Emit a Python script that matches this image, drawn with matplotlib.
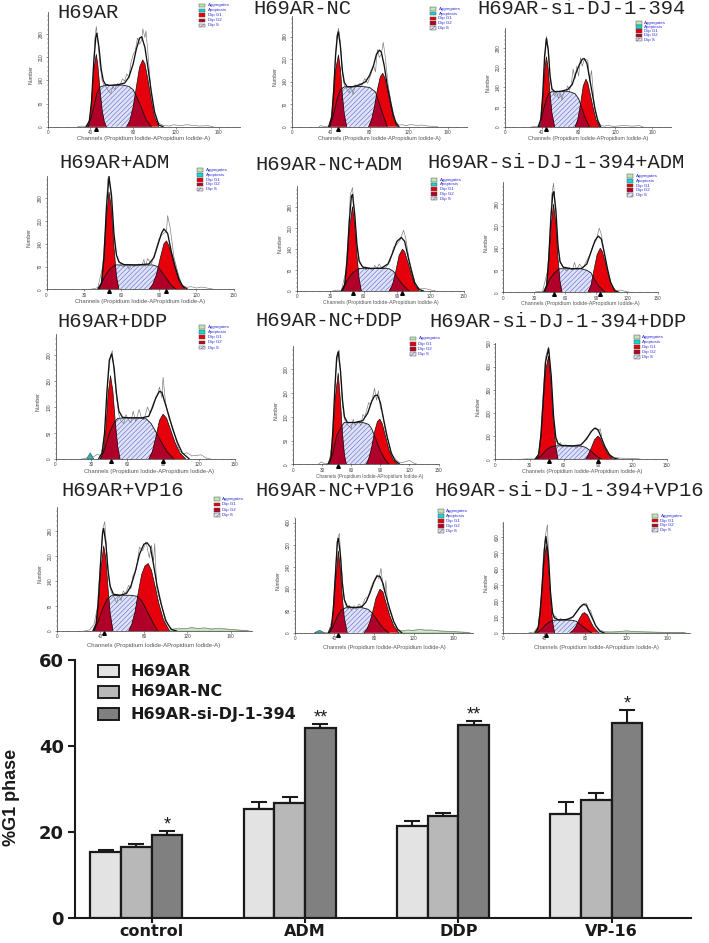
import matplotlib
matplotlib.use("Agg")
import matplotlib.pyplot as plt
from matplotlib.patches import Rectangle, Polygon

W, H = 709, 943
plt.rcParams['font.family'] = ['Liberation Sans', 'DejaVu Sans']
plt.rcParams['hatch.linewidth'] = 0.35
plt.rcParams['hatch.color'] = '#5b69d6'

# ---- bar chart values (%G1 phase)
groups = ['control', 'ADM', 'DDP', 'VP-16']
series_names = ['H69AR', 'H69AR-NC', 'H69AR-si-DJ-1-394']
h69ar = [15.4, 25.4, 21.5, 24.2]
h69ar_err = [0.4, 1.5, 1.1, 2.7]
h69ar_nc = [16.5, 26.8, 23.8, 27.4]
h69ar_nc_err = [0.7, 1.4, 0.7, 1.6]
h69ar_si = [19.3, 44.2, 44.8, 45.4]
h69ar_si_err = [1.0, 0.9, 0.9, 2.9]
stars = ['*', '**', '**', '*']

# ---- cell cycle histograms, (channel, number)
titles = ['H69AR', 'H69AR-NC', 'H69AR-si-DJ-1-394',
          'H69AR+ADM', 'H69AR-NC+ADM', 'H69AR-si-DJ-1-394+ADM',
          'H69AR+DDP', 'H69AR-NC+DDP', 'H69AR-si-DJ-1-394+DDP',
          'H69AR+VP16', 'H69AR-NC+VP16', 'H69AR-si-DJ-1-394+VP16']

p1_g1 = [(37,0),(39,15),(41,70),(43,170),(45.5,219),(47,185),(49,110),(51,50),(53,15),(55,0)]
p1_g2 = [(74,0),(77,20),(80,60),(83,120),(86,180),(89,202),(91,190),(94,140),(97,80),(100,30),(104,0)]
p1_s = [(38,0),(42,45),(46,100),(49,120),(53,125),(60,125),(70,126),(76,122),(80,112),(84,85),(88,55),(92,22),(97,0)]
p1_env = [(36,0),(39,18),(41,75),(43,190),(45,270),(46,283),(48,240),(50,175),(52,140),(54,128),(58,125),(66,127),(72,132),(76,150),(80,190),(83,235),(86,268),(88,272),(91,240),(94,175),(97,105),(100,45),(104,5),(108,0)]
p1_raw = [(28,0),(32,2),(35,1),(38,8),(40,35),(42,120),(44,262),(45.5,303),(47,260),(49,185),(51,138),(53,125),(55,118),(57,108),(59,100),(61,122),(63,112),(65,130),(68,128),(70,145),(72,138),(74,160),(76,150),(78,195),(80,218),(82,230),(84,268),(86,250),(88,262),(89,296),(91,270),(92,290),(94,215),(97,95),(100,40),(103,12),(108,4),(114,2),(118,6),(124,3),(130,6),(136,4),(142,2),(150,3),(155,0)]

p2_g1 = [(39,0),(41,30),(43,95),(45,175),(48,223),(50,180),(52,100),(54,40),(56.5,0)]
p2_g2 = [(79,0),(82,22),(85,62),(88,115),(91,155),(93.5,166),(96,150),(99,105),(102,60),(105,22),(108.5,0)]
p2_s = [(39,0),(43,40),(47,90),(50,115),(54,124),(62,124),(72,125),(80,122),(86,108),(90,72),(94,35),(98,0)]
p2_env = [(38,0),(41,28),(43,105),(45,220),(47,285),(48,295),(50,250),(52,175),(54,138),(57,124),(62,124),(70,130),(76,140),(80,160),(84,190),(87,225),(90,238),(92,232),(95,190),(98,130),(101,85),(104,40),(107,12),(110,0)]
p2_raw = [(28,0),(30,4),(33,0),(38,2),(41,35),(44,170),(46,275),(48,306),(50,262),(52,170),(54,130),(57,115),(59,105),(61,125),(63,100),(65,130),(68,128),(70,135),(72,128),(75,150),(78,135),(81,160),(84,190),(86,170),(88,240),(90,215),(92,225),(94,262),(96,220),(99,130),(102,75),(106,20),(110,5),(114,6),(118,3),(122,7),(128,4),(134,5),(140,2),(150,0)]

p3_g1 = [(37,0),(39,25),(41,100),(43,200),(45,248),(47,205),(49,115),(51,50),(54,0)]
p3_g2 = [(76,0),(79,25),(82,80),(85,145),(88,169),(90,155),(93,110),(96,65),(99,25),(103,0)]
p3_s = [(37,0),(41,50),(45,100),(48,120),(51,125),(60,125),(70,125),(76,118),(80,100),(84,62),(88,25),(92,0)]
p3_env = [(36,0),(39,28),(41,115),(43,250),(45,313),(47,270),(49,180),(51,135),(54,125),(60,126),(68,132),(73,150),(77,190),(81,222),(84,240),(86,242),(89,225),(92,170),(95,115),(98,60),(101,20),(104,0)]
p3_raw = [(28,0),(34,2),(38,6),(41,110),(43,240),(45,321),(47,280),(49,175),(51,130),(54,110),(56,125),(58,100),(60,120),(62,95),(64,130),(66,125),(68,145),(70,130),(72,150),(74,205),(76,170),(78,215),(80,180),(82,245),(84,215),(86,238),(88,240),(90,235),(92,160),(94,200),(97,75),(100,30),(104,5),(108,3),(112,6),(118,2),(124,4),(130,5),(138,3),(146,5),(150,0)]

p4_g1 = [(42,0),(44,20),(46,90),(48,220),(50,300),(52,250),(54,130),(56,40),(58,0)]
p4_g2 = [(82,0),(85,15),(88,45),(91,95),(94,140),(96,149),(98,135),(101,95),(104,50),(107,18),(111,0)]
p4_s = [(42,0),(46,35),(50,60),(55,75),(65,75),(75,75),(85,75),(89,70),(93,50),(97,28),(100,12),(104,0)]
p4_env = [(41,0),(44,20),(46,105),(48,255),(50,347),(52,290),(54,170),(56,105),(58,84),(62,76),(72,75),(82,78),(86,98),(89,135),(92,172),(94,186),(97,172),(100,115),(103,70),(106,32),(109,10),(113,0)]
p4_raw = [(35,0),(38,2),(41,5),(45,70),(47,180),(49,340),(50,349),(52,270),(54,160),(56,105),(58,88),(60,72),(62,68),(64,78),(66,62),(68,75),(70,70),(74,78),(76,72),(78,92),(79,70),(81,95),(84,78),(87,115),(90,155),(93,170),(96,178),(97,227),(99,190),(102,100),(105,55),(108,15),(112,6),(116,8),(120,4),(124,7),(130,3),(134,0)]

p5_g1 = [(41,0),(43,22),(45,90),(47,200),(50,280),(52,225),(54,120),(56,40),(58,0)]
p5_g2 = [(83,0),(86,20),(89,65),(92,118),(95,139),(97,130),(100,95),(103,55),(106,22),(110,0)]
p5_s = [(41,0),(45,35),(50,60),(56,75),(65,75),(75,75),(83,74),(87,65),(91,42),(95,22),(101,0)]
p5_env = [(40,0),(43,22),(45,100),(47,225),(49,315),(50,321),(52,255),(54,155),(56,100),(59,80),(66,75),(76,76),(82,90),(86,125),(90,165),(94,178),(97,165),(100,115),(103,68),(106,28),(110,5),(114,0)]
p5_raw = [(32,0),(36,3),(40,2),(44,65),(46,170),(48,320),(50,344),(52,250),(54,150),(56,95),(59,82),(62,70),(65,78),(68,68),(70,85),(72,75),(74,90),(76,78),(80,78),(84,100),(87,145),(90,155),(93,170),(96,202),(98,175),(101,105),(104,60),(107,18),(111,7),(115,8),(120,4),(125,0)]

p6_g1 = [(40,0),(42,22),(44,90),(46,200),(48.7,280),(51,220),(53,110),(55,35),(57,0)]
p6_g2 = [(82,0),(85,22),(88,72),(91,120),(94,140),(96,130),(99,95),(102,55),(105,22),(109,0)]
p6_s = [(40,0),(44,35),(49,60),(54,75),(65,75),(75,75),(81,70),(85,62),(89,38),(93,18),(99,0)]
p6_env = [(39,0),(42,22),(44,105),(46,230),(48,315),(49,320),(51,260),(53,150),(55,98),(58,80),(66,75),(76,76),(81,90),(85,128),(89,165),(92,179),(95,170),(98,125),(101,75),(104,32),(108,6),(112,0)]
p6_raw = [(30,0),(34,3),(38,2),(43,70),(45,170),(47,310),(48.7,347),(51,250),(53,150),(55,95),(58,82),(61,68),(64,78),(67,70),(69,95),(71,72),(74,90),(77,75),(80,95),(84,120),(87,150),(90,165),(93,204),(95,185),(98,125),(101,70),(105,20),(109,6),(114,7),(118,3),(123,0)]

p7_g1 = [(37.5,0),(40,15),(42,55),(44,125),(46,160),(48,130),(50,70),(52,25),(54,0)]
p7_g2 = [(78,0),(81,14),(84,42),(87,74),(90,86),(93,78),(96,58),(100,32),(104,12),(109,0)]
p7_s = [(37.5,0),(41,18),(45,50),(49,70),(52,78),(60,79),(70,79),(76,77),(80,68),(84,52),(88,35),(93,15),(99,0)]
p7_env = [(36,0),(39,12),(41,50),(43,130),(45,190),(47,202),(49,175),(51,125),(53,92),(56,80),(62,79),(72,79),(78,82),(81,98),(84,118),(87,130),(89,128),(92,105),(95,82),(98,58),(102,32),(106,12),(112,0)]
p7_raw = [(22,0),(26,2),(29,8),(31,3),(35,9),(38,6),(41,48),(44,155),(46,198),(47.5,208),(49,165),(51,118),(53,85),(55,72),(57,68),(59,85),(61,75),(63,70),(65,92),(67,72),(70,95),(72,78),(74,75),(77,100),(79,88),(82,108),(85,120),(87,138),(89,118),(90,157),(92,110),(95,78),(98,62),(101,35),(104,15),(107,10),(110,12),(114,6),(118,7),(122,8),(126,2),(130,0)]

p8_g1 = [(37,0),(39,12),(41,55),(43,130),(46.6,192),(49,130),(51,65),(53,20),(55,0)]
p8_g2 = [(75.5,0),(78,12),(81,35),(84,68),(87,90),(89.5,95),(92,85),(95,62),(99,30),(103,10),(108,0)]
p8_s = [(37,0),(41,22),(45,60),(50,80),(53,88),(62,88),(72,88),(78,84),(81,75),(85,55),(90,28),(95,10),(99,0)]
p8_env = [(36,0),(39,14),(41,68),(43,155),(45,225),(46.6,237),(49,195),(51,135),(53,100),(56,88),(64,88),(72,92),(77,108),(81,132),(84,144),(87,146),(90,130),(93,98),(97,58),(101,25),(105,8),(110,0)]
p8_raw = [(26,0),(29,5),(33,1),(37,2),(40,40),(42,110),(44,190),(46,235),(47.5,241),(49,190),(51,125),(53,95),(55,85),(58,80),(60,75),(62,95),(64,82),(66,90),(68,88),(70,82),(72,105),(74,100),(76,115),(78,130),(80,125),(82,140),(84,160),(86,135),(88,155),(90,118),(92,112),(95,72),(98,50),(102,20),(106,10),(110,3),(115,5),(120,8),(124,3),(128,0)]

p9_g1 = [(36,0),(38,20),(40,100),(42,240),(44,380),(46.7,446),(49,320),(51,160),(53,55),(55,0)]
p9_g2 = [(79,0),(81,15),(84,48),(87,85),(90,100),(92,90),(95,58),(98,28),(103,0)]
p9_s = [(36,0),(40,15),(45,42),(49,54),(53,58),(65,58),(75,57),(79,52),(83,38),(87,22),(90,10),(93,0)]
p9_env = [(35,0),(38,22),(40,105),(42,260),(44,420),(46.7,479),(49,360),(51,190),(53,95),(55,68),(58,60),(68,58),(75,62),(80,88),(84,120),(87,134),(90,128),(93,92),(96,55),(100,20),(104,5),(108,0)]
p9_raw = [(22,0),(28,2),(34,1),(38,18),(40,120),(42,290),(44,440),(46.7,486),(49,350),(51,180),(53,85),(55,60),(57,72),(59,52),(62,62),(65,55),(68,60),(71,48),(74,60),(77,72),(80,95),(83,110),(86,130),(88,138),(90,120),(92,132),(94,72),(97,45),(100,18),(104,8),(110,5),(116,3),(122,4),(128,0)]

p10_g1 = [(34,0),(36,18),(38,70),(40,160),(43,238),(45,205),(47,120),(49,50),(51.6,0)]
p10_g2 = [(66,0),(69,20),(72,55),(75,110),(78,158),(81,182),(84,189),(87,170),(90,130),(94,75),(98,32),(103.7,0)]
p10_s = [(34,0),(38,28),(42,62),(46,88),(50,99),(58,100),(68,100),(74,97),(78,85),(82,62),(86,38),(89,20),(93,0)]
p10_env = [(33,0),(36,20),(38,80),(40,185),(42,275),(43,287),(45,245),(47,170),(49,125),(52,103),(58,100),(64,105),(68,125),(72,165),(76,215),(80,243),(83,247),(86,235),(89,185),(92,130),(96,75),(100,30),(105,5),(110,0)]
p10_raw = [(25,0),(30,3),(34,18),(37,62),(40,190),(42,285),(44,306),(46,215),(48,140),(50,108),(52,98),(55,78),(57,102),(59,85),(61,112),(63,105),(66,128),(68,118),(70,155),(73,172),(76,235),(79,225),(82,250),(85,205),(87,240),(89,195),(90,245),(92,115),(95,85),(98,55),(102,18),(106,5),(112,8),(118,6),(124,10),(130,7),(136,9),(142,5),(150,8),(158,5),(166,3),(176,1)]
p10_agg = [(100,0),(112,5),(125,8),(140,7),(155,5),(170,2),(178,0)]

p11_g1 = [(35,0),(37,20),(39,80),(41,180),(44,297),(46,235),(48,130),(50,55),(53,0)]
p11_g2 = [(70,0),(73,14),(76,40),(79,80),(82,125),(86,158),(89,148),(92,110),(96,62),(100,25),(105,0)]
p11_s = [(35,0),(39,25),(43,60),(47,82),(51.6,91),(60,91),(68,91),(74,85),(78,72),(82,52),(86,32),(90,14),(95,0)]
p11_env = [(34,0),(37,22),(39,90),(41,210),(43,330),(44,343),(46,285),(48,180),(50,120),(53,95),(60,91),(68,95),(72,112),(76,145),(80,185),(83,206),(86,205),(89,180),(92,135),(96,85),(100,40),(104,12),(108,0)]
p11_raw = [(20,0),(25,8),(29,0),(34,2),(38,50),(41,220),(43,340),(45,361),(47,245),(49,150),(51,105),(53,88),(55,100),(57,82),(60,98),(62,85),(65,105),(68,95),(71,125),(74,130),(77,165),(80,190),(83,210),(85,195),(87,234),(89,170),(91,145),(92,190),(94,95),(97,70),(100,38),(104,12),(108,7),(114,10),(120,8),(126,12),(132,9),(138,10),(146,6),(155,5),(165,3),(176,1)]
p11_agg = [(102,0),(112,7),(125,11),(138,9),(150,6),(165,3),(178,0)]

p12_g1 = [(32,0),(34,30),(36,130),(38,300),(40,470),(42,545),(44,440),(46,230),(48,70),(50,0)]
p12_g2 = [(65,0),(68,15),(71,42),(74,85),(77,118),(79,126),(82,112),(85,72),(88,35),(93,0)]
p12_s = [(33,0),(37,18),(41,48),(45,68),(48.5,78),(58,80),(67,78),(71,72),(75,52),(79,32),(83,12),(86,0)]
p12_env = [(31,0),(34,32),(36,135),(38,310),(40,520),(41.5,604),(44,480),(46,255),(48,125),(50,92),(54,80),(62,82),(68,100),(72,135),(75,162),(78,178),(81,172),(84,130),(87,88),(90,45),(94,10),(98,0)]
p12_raw = [(25,0),(30,4),(34,40),(37,230),(39,470),(41,610),(43,677),(45,340),(47,160),(49,95),(51,105),(53,75),(56,90),(59,72),(62,88),(65,82),(68,100),(71,130),(74,155),(77,165),(79,184),(81,185),(83,150),(85,140),(87,100),(90,42),(94,18),(98,7),(105,4),(112,6),(120,12),(128,7),(136,5),(145,4),(160,2),(176,1)]
p12_agg = [(92,0),(105,5),(120,10),(135,6),(150,3),(165,1),(178,0)]

# cyan apoptosis bump, only two panels have one
p7_apo = [(26,0),(29,12),(32,0)]
p11_apo = [(20,0),(25,9),(30,0)]

all_g1 = [p1_g1, p2_g1, p3_g1, p4_g1, p5_g1, p6_g1, p7_g1, p8_g1, p9_g1, p10_g1, p11_g1, p12_g1]
all_g2 = [p1_g2, p2_g2, p3_g2, p4_g2, p5_g2, p6_g2, p7_g2, p8_g2, p9_g2, p10_g2, p11_g2, p12_g2]
all_s = [p1_s, p2_s, p3_s, p4_s, p5_s, p6_s, p7_s, p8_s, p9_s, p10_s, p11_s, p12_s]
all_env = [p1_env, p2_env, p3_env, p4_env, p5_env, p6_env, p7_env, p8_env, p9_env, p10_env, p11_env, p12_env]
all_raw = [p1_raw, p2_raw, p3_raw, p4_raw, p5_raw, p6_raw, p7_raw, p8_raw, p9_raw, p10_raw, p11_raw, p12_raw]
all_agg = [None]*9 + [p10_agg, p11_agg, p12_agg]
all_apo = [None]*6 + [p7_apo, None, None, None, p11_apo, None]

# peak markers under the axis
g1_marks = [45.5, 48, 45, 50, 50, 48.7, 46, 46.6, 46.7, 43, 44, 42]
g2_marks = [None, None, None, 96, 95, 94, 90, None, 90, None, None, None]

# ---- panel layout in picture pixels: left, right, baseline, top
boxes = [(47.7,240,126.7,12), (291.7,467,126.7,15.7), (505,670.7,127,28),
         (46.6,233.8,289.3,176), (297,463.5,291,186), (503.3,658,292.3,182.3),
         (55.6,234.7,459,334), (293,438.6,464.3,346), (495.3,666.5,459.3,343.3),
         (57,252.4,631,506.7), (294.8,473,632.7,517.7), (503.3,689.6,632.7,521.7)]
xmax = [180,180,180, 150,150,150, 150,150,150, 180,180,181.6]
ymax = [347,345,350, 349,349,350, 240,249,501, 348,418,696]
ysteps = [70,70,70, 70,70,70, 50,50,100, 70,80,100]
xsteps = [40,40,40, 30,30,30, 30,30,30, 40,40,40]
title_pos = [(57,12),(253,8),(477,8),(59,162),(255.6,164),(427,162.7),
             (57.5,321.7),(255,320),(429,321.7),(61,490.7),(255.6,490.7),(434.5,490)]
xlabel_pos = [(144,138.5),(379,138.5),(588,138.5),(140,301.5),(381,302.5),(580,303.5),
              (149,471),(369.8,476),(582,471),(154,646),(384,647.5),(596,647.5)]
xlabel_size = [4.3,4.0,3.9,4.2,3.7,3.8,4.2,3.4,3.9,4.3,4.0,4.1]
legend_pos = [(199,3.5,5),(430,7,4.8),(635.7,21,4.2),(197,168.3,4.8),(431,178,4.7),(627,174.3,4.7),
              (199,325,5.2),(410,336.7,5.2),(633.5,335,5),(213.6,497.3,5.3),(437.5,509.3,5),(652,514,4.8)]
legend_names = [['Aggregates','Apoptosis','Dip G1','Dip G2','Dip S']]*7 + \
    [['Aggregates','Dip G1','Dip G2','Dip S'], ['Aggregates','Apoptosis','Dip G1','Dip G2','Dip S'],
     ['Aggregates','Dip G1','Dip G2','Dip S'], ['Aggregates','Apoptosis','Dip G1','Dip G2','Dip S'],
     ['Aggregates','Dip G1','Dip G2','Dip S']]
legend_colors = {'Aggregates':'#bfe6b8', 'Apoptosis':'#12d6d6', 'Dip G1':'#e5000c', 'Dip G2':'#b80020', 'Dip S':'#dfe2f7'}

RED = '#e5000c'
DARK = '#b0002a'
BOLD = ['DejaVu Sans']

fig = plt.figure(figsize=(W/100, H/100), dpi=100, facecolor='white')


def axes_px(left, right, base, top):
    return fig.add_axes([left/W, 1-base/H, (right-left)/W, (base-top)/H])


for i in range(12):
    left, right, base, top = boxes[i]
    ax = axes_px(left, right, base, top)
    ax.patch.set_alpha(0)
    ax.set_xlim(0, xmax[i])
    ax.set_ylim(0, ymax[i])
    for side in ['top', 'right']:
        ax.spines[side].set_visible(False)
    for side in ['left', 'bottom']:
        ax.spines[side].set_linewidth(0.5)
        ax.spines[side].set_color('#333333')

    ax.set_xticks(range(0, int(xmax[i])+1, xsteps[i]))
    ax.set_xticks(range(0, int(xmax[i])+1, xsteps[i]//4), minor=True)
    ax.set_yticks(range(0, int(ymax[i]), ysteps[i]))
    ax.set_yticks(range(0, int(ymax[i]), ysteps[i]//5), minor=True)
    ax.tick_params(axis='both', which='major', length=1.6, width=0.4, labelsize=3.3,
                   pad=1.2, colors='#444444')
    ax.tick_params(axis='x', which='major', pad=0.8)
    ax.tick_params(axis='both', which='minor', length=0.9, width=0.3, colors='#444444')
    for lab in ax.get_yticklabels():
        lab.set_rotation(90)
        lab.set_va('center')

    # S phase underneath, hatched
    s_xy = all_s[i]
    ax.add_patch(Polygon(s_xy, closed=True, facecolor='#dfe2f7', edgecolor='#4a56c8',
                         hatch='///////', lw=0, zorder=2))

    for g_xy in [all_g1[i], all_g2[i]]:
        g = Polygon(g_xy, closed=True, facecolor=RED, edgecolor='none', zorder=3)
        ax.add_patch(g)
        # darker red where the peak sits on top of S phase
        over = Polygon(s_xy, closed=True, facecolor=DARK, edgecolor='none', zorder=4)
        ax.add_patch(over)
        over.set_clip_path(g)
        ax.plot(*zip(*g_xy), color='#111111', lw=0.5, zorder=5)

    ax.plot(*zip(*s_xy), color='#111111', lw=0.6, zorder=5)

    if all_agg[i] is not None:
        ax.fill(*zip(*all_agg[i]), facecolor='#cfeac6', edgecolor='#7fae78', lw=0.3, zorder=2)
    if all_apo[i] is not None:
        ax.fill(*zip(*all_apo[i]), facecolor='#12c8c8', edgecolor='#222222', lw=0.3, zorder=3)

    ax.plot(*zip(*all_raw[i]), color='#777777', lw=0.45, zorder=6)
    ax.plot(*zip(*all_env[i]), color='#111111', lw=0.95, zorder=7)
    ax.plot([0, xmax[i]], [0, 0], color='#555555', lw=0.7, zorder=7)

    marks = [m for m in [g1_marks[i], g2_marks[i]] if m is not None]
    ax.plot(marks, [-0.018*ymax[i]]*len(marks), linestyle='none', marker='^', ms=2.6,
            color='black', clip_on=False, zorder=8)

    # texts in picture pixels
    tx, ty = title_pos[i]
    fig.text(tx/W, 1-ty/H, titles[i], family=['Liberation Mono'], fontsize=14.8,
             color='#222222', ha='left', va='center')
    lx, ly = xlabel_pos[i]
    fig.text(lx/W, 1-ly/H, 'Channels (Propidium Iodide-APropidium Iodide-A)',
             fontsize=xlabel_size[i], color='#555555', ha='center', va='center')
    fig.text((left-17)/W, 1-(base+top+10)/2/H, 'Number', fontsize=3.8, rotation=90,
             color='#444444', ha='center', va='center')

    sx, sy, step = legend_pos[i]
    for j, name in enumerate(legend_names[i]):
        y = sy + j*step
        hatch = '//////' if name == 'Dip S' else None
        fig.add_artist(Rectangle((sx/W, 1-(y+3.6)/H), 6/W, 3.6/H, transform=fig.transFigure,
                                 facecolor=legend_colors[name], edgecolor='#555555', lw=0.35, hatch=hatch))
        fig.text((sx+8.5)/W, 1-(y+1.8)/H, name, fontsize=3.2, color='#2a2ad8', ha='left', va='center')

# ---- bar chart
ax = axes_px(75, 691, 918, 660)
ax.patch.set_alpha(0)
ax.set_xlim(-0.5, 3.517)
ax.set_ylim(0, 60)
bar_w = 0.2
fills = ['#e3e3e3', '#b8b8b8', '#808080']
vals = [h69ar, h69ar_nc, h69ar_si]
errs = [h69ar_err, h69ar_nc_err, h69ar_si_err]
offs = [-1.5*bar_w, -0.5*bar_w, 0.5*bar_w]
for k in range(3):
    xs = [g + offs[k] for g in range(len(groups))]
    ax.errorbar(xs, vals[k], yerr=[[0]*4, errs[k]], fmt='none', ecolor='#1a1a1a',
                elinewidth=1.5, capsize=6, capthick=1.5, zorder=2)
    ax.bar(xs, vals[k], width=bar_w, color=fills[k], edgecolor='#1a1a1a', linewidth=1.6, zorder=3)

for g in range(len(groups)):
    top = h69ar_si[g] + h69ar_si_err[g]
    ax.text(g + offs[2], top + 1.4, stars[g], fontsize=13, ha='center', va='center', color='#1a1a1a')

for side in ['top', 'right']:
    ax.spines[side].set_visible(False)
for side in ['left', 'bottom']:
    ax.spines[side].set_linewidth(1.5)
    ax.spines[side].set_color('#1a1a1a')
ax.set_xticks(range(len(groups)))
ax.set_xticklabels(groups, family=BOLD, fontweight='bold', fontsize=11.5, color='#1a1a1a')
ax.set_yticks([0, 20, 40, 60])
ax.set_yticklabels(['0', '20', '40', '60'], family=BOLD, fontweight='bold', fontsize=13, color='#1a1a1a')
ax.tick_params(axis='both', length=5, width=1.5, color='#1a1a1a', pad=3)
ax.tick_params(axis='x', length=3.5, pad=1)

fig.text(12/W, 1-797/H, '%G1 phase', rotation=90, fontsize=13, fontweight='bold',
         color='#1a1a1a', ha='center', va='center')

leg_rows = [671, 692, 714]
for name, c, yy in zip(series_names, fills, leg_rows):
    fig.add_artist(Rectangle((97.5/W, 1-(yy+6)/H), 21/W, 12/H, transform=fig.transFigure,
                             facecolor=c, edgecolor='#1a1a1a', lw=1.4))
    fig.text(130/W, 1-yy/H, name, family=BOLD, fontsize=11.5, fontweight='bold', color='#1a1a1a',
             ha='left', va='center')

fig.savefig('out.png', dpi=100)
